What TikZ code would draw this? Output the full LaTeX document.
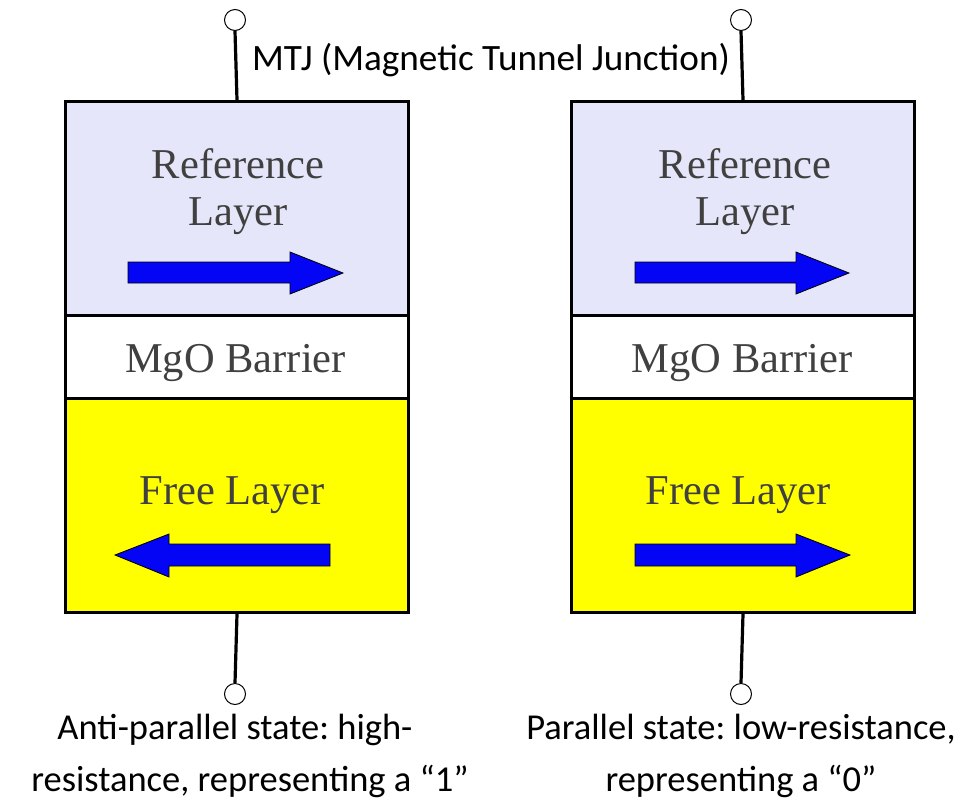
\documentclass[tikz,border=0pt]{standalone}
\usepackage{fontspec}
\setmainfont{Liberation Serif}
\newfontfamily\capfont{Carlito}
\frenchspacing
\definecolor{lav}{RGB}{230,230,250}
\definecolor{freey}{RGB}{255,255,0}
\definecolor{txtgray}{RGB}{64,64,64}
\definecolor{arrblue}{RGB}{5,5,245}
\begin{document}
\begin{tikzpicture}[x=1pt,y=-1pt,
  layerbox/.style={draw=black, line width=3pt, minimum width=343pt, inner sep=0pt, anchor=north west},
  term/.style={circle, draw=black, line width=1pt, fill=white, minimum size=21pt, inner sep=0pt},
  wire/.style={line width=3.2pt},
  layertext/.style={font=\fontsize{42.5}{47}\selectfont, text=txtgray, anchor=base, inner sep=0pt},
  captext/.style={font=\capfont\fontsize{36.5}{52}\selectfont, text=black, inner sep=0pt},
  magarrow/.style={fill=arrblue, draw=black, line width=0.8pt, line join=miter}]
\useasboundingbox (0,0) rectangle (961,801);
\fill[white] (0,0) rectangle (961,801);

% left stack
\node[layerbox, fill=lav, minimum height=214pt] (refL) at (64,100) {};
\node[layerbox, fill=white, minimum height=83pt] (mgoL) at (64,314) {};
\node[layerbox, fill=freey, minimum height=214pt] (freeL) at (64,397) {};
% right stack
\node[layerbox, fill=lav, minimum height=214pt] (refR) at (570,100) {};
\node[layerbox, fill=white, minimum height=83pt] (mgoR) at (570,314) {};
\node[layerbox, fill=freey, minimum height=214pt] (freeR) at (570,397) {};

% terminals
\node[term] (tL) at (235,20) {};
\node[term] (bL) at (235,694) {};
\node[term] (tR) at (741,20) {};
\node[term] (bR) at (741,694) {};
\draw[wire] (tL.south) -- (refL.north);
\draw[wire] (freeL.south) -- (bL.north);
\draw[wire] (tR.south) -- (refR.north);
\draw[wire] (freeR.south) -- (bR.north);

% layer labels
\node[layertext] (rl1) at (238,178) {Reference};
\node[layertext] (rl2) at (238,225) {Layer};
\node[layertext] (mg1) at (235.5,372) {MgO Barrier};
\node[layertext] (fl1) at (232,504) {Free Layer};
\node[layertext] (rl3) at (745,178) {Reference};
\node[layertext] (rl4) at (745,225) {Layer};
\node[layertext] (mg2) at (742,372) {MgO Barrier};
\node[layertext] (fl2) at (738,504) {Free Layer};

% magnetization arrows
\draw[magarrow] (128,262) -- (290,262) -- (290,252) -- (343,273) -- (290,294) -- (290,283) -- (128,283) -- cycle;
\draw[magarrow] (635,262) -- (796,262) -- (796,252) -- (849,273) -- (796,294) -- (796,283) -- (635,283) -- cycle;
\draw[magarrow] (330,544) -- (169,544) -- (169,534) -- (115,555) -- (169,577) -- (169,566) -- (330,566) -- cycle;
\draw[magarrow] (635,544) -- (796,544) -- (796,534) -- (850,555) -- (796,577) -- (796,566) -- (635,566) -- cycle;

% captions
\node[captext, anchor=base, font=\capfont\fontsize{37.2}{52}\selectfont] (mtj) at (491,70) {MTJ (Magnetic Tunnel Junction)};
\node[captext, anchor=base] (capL1) at (235,739) {Anti-parallel state: high-};
\node[captext, anchor=base] (capL2) at (250,791) {resistance, representing a “1”};
\node[captext, anchor=base] (capR1) at (741,739) {Parallel state: low-resistance,};
\node[captext, anchor=base] (capR2) at (741,791) {representing a “0”};
\end{tikzpicture}
\end{document}
